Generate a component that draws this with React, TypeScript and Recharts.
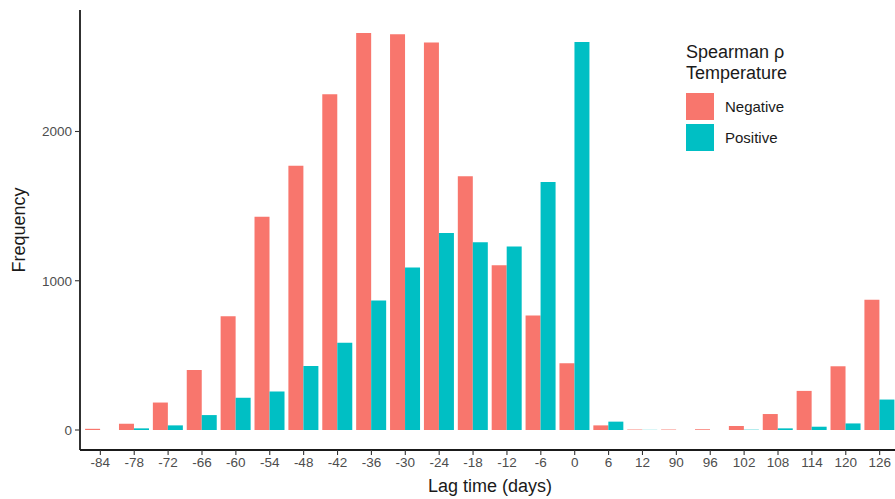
import React from 'react';
import { BarChart, Bar, XAxis, YAxis, Legend } from 'recharts';

const lagLabels = ['-84','-78','-72','-66','-60','-54','-48','-42','-36','-30','-24','-18','-12','-6','0','6','12','90','96','102','108','114','120','126'];
const negativeCounts = [8, 42, 184, 402, 762, 1429, 1770, 2249, 2660, 2651, 2596, 1700, 1104, 767, 447, 31, 3, 3, 5, 27, 107, 262, 427, 873];
const positiveCounts = [0, 11, 31, 100, 216, 258, 429, 584, 867, 1089, 1320, 1258, 1229, 1662, 2600, 56, 1, 0, 0, 2, 11, 22, 44, 204];
const yTicks = [0, 1000, 2000];

const data = lagLabels.map((lag, i) => ({ lag, negative: negativeCounts[i], positive: positiveCounts[i] }));

const FONT = '"Liberation Sans", Arial, Helvetica, sans-serif';
const NEG = '#F8766D';
const POS = '#00BFC4';

const YLabel = (props: any) => {
  const vb = props.viewBox || {};
  const cx = 19;
  const cy = vb.y + vb.height / 2;
  return (
    <text x={cx} y={cy} transform={`rotate(-90 ${cx} ${cy})`} textAnchor="middle" dominantBaseline="central"
      fontFamily={FONT} fontSize={18} fill="#1a1a1a">Frequency</text>
  );
};

const XLabel = (props: any) => {
  const vb = props.viewBox || {};
  const cx = vb.x + vb.width / 2;
  return (
    <text x={cx} y={492} textAnchor="middle" fontFamily={FONT} fontSize={18} fill="#1a1a1a">Lag time (days)</text>
  );
};

const LegendContent = (props: any) => {
  const payload = props.payload || [];
  return (
    <div style={{ fontFamily: FONT, color: '#1a1a1a' }}>
      <div style={{ fontSize: 18, lineHeight: '20.5px', marginBottom: 10 }}>Spearman ρ<br />Temperature</div>
      {payload.map((p: any) => (
        <div key={p.value} style={{ display: 'flex', alignItems: 'center', height: 27, marginBottom: 4 }}>
          <div style={{ width: 28, height: 27, background: p.color }} />
          <span style={{ marginLeft: 11, fontSize: 15 }}>{p.value}</span>
        </div>
      ))}
    </div>
  );
};

export default function App() {
  return (
    <div style={{ position: 'absolute', left: 0, top: 0, width: 895, height: 499, overflow: 'hidden', background: '#fff' }}>
      <BarChart width={900} height={499} data={data} margin={{ top: 10, right: 0, left: 0, bottom: 0 }}
        barCategoryGap="5%" barGap={0}>
        <XAxis dataKey="lag" interval={0} height={49} padding={{ left: 3.4, right: 3.4 }}
          axisLine={{ stroke: '#1a1a1a', strokeWidth: 1.8 }} tickLine={{ stroke: '#333', strokeWidth: 1.1 }}
          tickSize={5} tickMargin={2}
          tick={{ fontFamily: FONT, fontSize: 13.5, fill: '#4D4D4D' }}
          label={<XLabel />} />
        <YAxis type="number" domain={[-134, 2814]} ticks={yTicks} allowDataOverflow width={80}
          axisLine={{ stroke: '#1a1a1a', strokeWidth: 1.8 }} tickLine={{ stroke: '#333', strokeWidth: 1.1 }}
          tickSize={5} tickMargin={3}
          tick={{ fontFamily: FONT, fontSize: 13.5, fill: '#4D4D4D' }}
          label={<YLabel />} />
        <Legend layout="horizontal" verticalAlign="middle" align="center" content={<LegendContent />}
          wrapperStyle={{ position: 'absolute', left: 686, top: 42, width: 180 }} />
        <Bar dataKey="negative" name="Negative" fill={NEG} isAnimationActive={false} />
        <Bar dataKey="positive" name="Positive" fill={POS} isAnimationActive={false} />
      </BarChart>
    </div>
  );
}
